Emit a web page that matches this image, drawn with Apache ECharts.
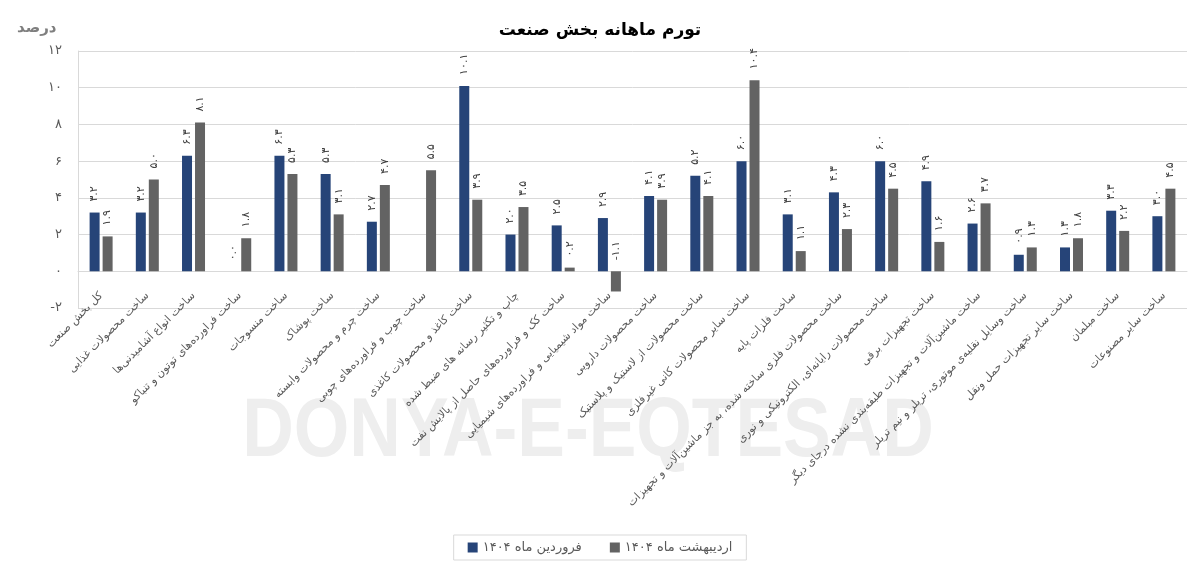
<!DOCTYPE html>
<html>
<head>
<meta charset="utf-8">
<script src="https://cdn.jsdelivr.net/npm/echarts@6/dist/echarts.min.js"></script>
<style>
html,body{margin:0;padding:0;background:#fff;}
#chart{width:1200px;height:574px;}
</style>
</head>
<body>
<div id="chart"></div>
<script>
const categories = [
  'کل بخش صنعت',
  'ساخت محصولات غذایی',
  'ساخت انواع آشامیدنی‌ها',
  'ساخت فراورده‌های توتون و تنباکو',
  'ساخت منسوجات',
  'ساخت پوشاک',
  'ساخت چرم و محصولات وابسته',
  'ساخت چوب و فراورده‌های چوبی',
  'ساخت کاغذ و محصولات کاغذی',
  'چاپ و تکثیر رسانه های ضبط شده',
  'ساخت کک و فراورده‌های حاصل از پالایش نفت',
  'ساخت مواد شیمیایی و فراورده‌های شیمیایی',
  'ساخت محصولات دارویی',
  'ساخت محصولات از لاستیک و پلاستیک',
  'ساخت سایر محصولات کانی غیرفلزی',
  'ساخت فلزات پایه',
  'ساخت محصولات فلزی ساخته شده، به جز ماشین‌آلات و تجهیزات',
  'ساخت محصولات رایانه‌ای، الکترونیکی و نوری',
  'ساخت تجهیزات برقی',
  'ساخت ماشین‌آلات و تجهیزات طبقه‌بندی نشده درجای دیگر',
  'ساخت وسایل نقلیه‌ی موتوری، تریلر و نیم تریلر',
  'ساخت سایر تجهیزات حمل ونقل',
  'ساخت مبلمان',
  'ساخت سایر مصنوعات'
];
const seriesNames = ['فروردین ماه ۱۴۰۴', 'اردیبهشت ماه ۱۴۰۴'];
const farvardin = [3.2,3.2,6.3,0.0,6.3,5.3,2.7,null,10.1,2.0,2.5,2.9,4.1,5.2,6.0,3.1,4.3,6.0,4.9,2.6,0.9,1.3,3.3,3.0];
const ordibehesht = [1.9,5.0,8.1,1.8,5.3,3.1,4.7,5.5,3.9,3.5,0.2,-1.1,3.9,4.1,10.4,1.1,2.3,4.5,1.6,3.7,1.3,1.8,2.2,4.5];
const titleText = 'تورم ماهانه بخش صنعت';
const yUnit = 'درصد';

const FA = '۰۱۲۳۴۵۶۷۸۹';
function toFa(s){ return String(s).replace(/\d/g, d => FA[d]); }
const FONT = 'DejaVu Sans';

const chart = echarts.init(document.getElementById('chart'), null, {renderer:'canvas'});

function barLabel(){
  return {
    show: true,
    position: 'top',
    rotate: 90,
    align: 'left',
    verticalAlign: 'middle',
    distance: 11,
    fontFamily: FONT,
    fontSize: 11,
    color: '#404040',
    formatter: p => (p.value === null || p.value === undefined) ? '' : toFa(p.value.toFixed(1))
  };
}

chart.setOption({
  animation: false,
  backgroundColor: '#ffffff',
  title: {
    text: titleText,
    left: 'center',
    top: 17,
    textStyle: {fontFamily: FONT, fontSize: 17, fontWeight: 'bold', color: '#000000'}
  },
  graphic: [
    {
      type: 'text', left: 17, top: 21, z: 10,
      style: {text: yUnit, font: 'bold 15px "DejaVu Sans"', fill: '#7f7f7f'}
    },
    {
      type: 'text', x: 588, y: 433, z: -10, scaleX: 0.86,
      style: {text: 'DONYA-E-EQTESAD', font: 'bold 83px "Liberation Sans"', fill: '#eeeeee', align: 'center', verticalAlign: 'middle'}
    }
  ],
  legend: {
    data: seriesNames,
    left: 'center',
    top: 535,
    itemWidth: 10,
    itemHeight: 10,
    itemGap: 28,
    padding: [6, 14],
    borderColor: '#d9d9d9',
    borderWidth: 1,
    icon: 'rect',
    textStyle: {fontFamily: FONT, fontSize: 13, color: '#595959'}
  },
  grid: {left: 78, right: 13, top: 51, bottom: 266, containLabel: false},
  xAxis: {
    type: 'category',
    data: categories,
    axisLine: {show: true, onZero: true, lineStyle: {color: '#d9d9d9'}},
    axisTick: {show: false},
    axisLabel: {
      interval: 0,
      rotate: 45,
      margin: -14,
      fontFamily: FONT,
      fontSize: 11,
      color: '#595959'
    },
    splitLine: {show: false}
  },
  yAxis: {
    type: 'value',
    min: -2,
    max: 12,
    interval: 2,
    axisLine: {show: true, lineStyle: {color: '#d9d9d9'}},
    axisTick: {show: false},
    axisLabel: {
      margin: 16,
      fontFamily: FONT,
      fontSize: 13,
      color: '#595959',
      formatter: v => toFa(v)
    },
    splitLine: {show: true, lineStyle: {color: '#d9d9d9', width: 1}}
  },
  series: [
    {
      name: seriesNames[0],
      type: 'bar',
      data: farvardin,
      itemStyle: {color: '#264478'},
      barWidth: 10,
      barGap: '30%',
      label: barLabel()
    },
    {
      name: seriesNames[1],
      type: 'bar',
      data: ordibehesht,
      itemStyle: {color: '#636363'},
      barWidth: 10,
      barGap: '30%',
      label: barLabel()
    }
  ]
});
</script>
</body>
</html>
